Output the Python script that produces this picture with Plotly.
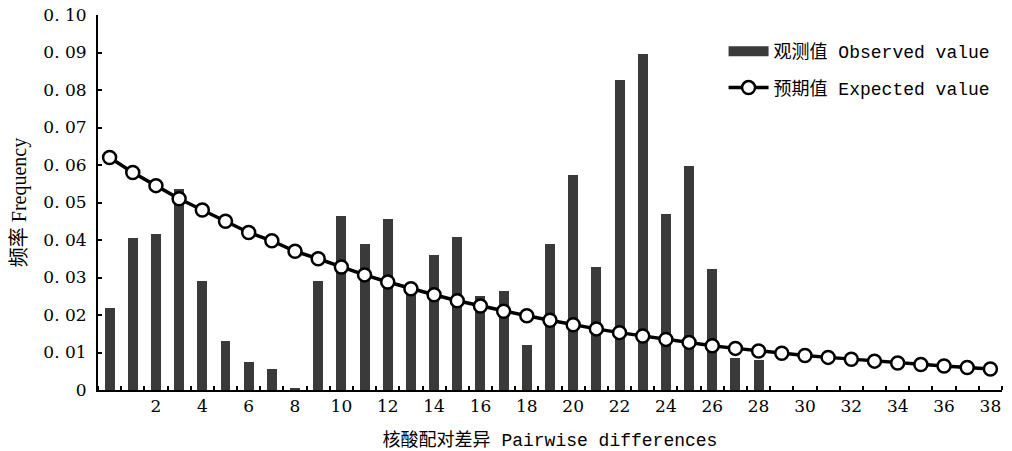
import plotly.graph_objects as go

differences = list(range(0, 39))
observed = [0.022, 0.0405, 0.0415, 0.0537, 0.029, 0.013, 0.0075, 0.0055, 0.0005, 0.029,
            0.0465, 0.039, 0.0455, 0.028, 0.036, 0.0408, 0.025, 0.0263, 0.012, 0.039,
            0.0573, 0.0329, 0.0827, 0.0896, 0.0469, 0.0598, 0.0324, 0.0086, 0.008,
            0, 0, 0, 0, 0, 0, 0, 0, 0, 0]
expected = [0.062, 0.058, 0.0545, 0.051, 0.048, 0.045, 0.042, 0.0398, 0.037, 0.035,
            0.0328, 0.0307, 0.0288, 0.027, 0.0254, 0.0238, 0.0224, 0.021, 0.0198, 0.0186,
            0.0174, 0.0163, 0.0153, 0.0144, 0.0135, 0.0127, 0.0118, 0.0111, 0.0104, 0.0098,
            0.0092, 0.0087, 0.0082, 0.0077, 0.0072, 0.0068, 0.0064, 0.006, 0.0056]
x_tick_vals = [2, 4, 6, 8, 10, 12, 14, 16, 18, 20, 22, 24, 26, 28, 30, 32, 34, 36, 38]
x_tick_text = [str(v) for v in x_tick_vals]
x_minor_vals = [i + 0.5 for i in range(-1, 39)]
y_tick_vals = [0, 0.01, 0.02, 0.03, 0.04, 0.05, 0.06, 0.07, 0.08, 0.09, 0.10]
y_tick_text = ["0", "0. 01", "0. 02", "0. 03", "0. 04", "0. 05", "0. 06", "0. 07", "0. 08", "0. 09", "0. 10"]

mono = "Liberation Mono, Noto Sans CJK SC, monospace"
serif = "DejaVu Serif, Noto Sans CJK SC, serif"
serif2 = "Liberation Serif, Noto Sans CJK SC, serif"
bar_color = "#3a3a3a"

fig = go.Figure()
fig.add_trace(go.Bar(
    x=differences, y=observed, name="观测值 Observed value",
    marker=dict(color=bar_color, line=dict(width=0)),
    width=0.43, showlegend=False,
))
# legend entry for the bars, drawn as a wide block like the reference
fig.add_trace(go.Scatter(
    x=[None], y=[None], name="观测值 Observed value", mode="lines",
    line=dict(color=bar_color, width=13), legendgroup="obs",
))
fig.add_trace(go.Scatter(
    x=differences, y=expected, name="预期值 Expected value",
    mode="lines+markers", legendgroup="exp",
    line=dict(color="black", width=3.5),
    marker=dict(symbol="circle", size=13, color="white", line=dict(color="black", width=2.5)),
))

# page body has an 8px margin, so the figure is sized/offset to compensate
fig.update_layout(
    width=1004, height=443,
    margin=dict(l=90, r=10, t=7, b=61, autoexpand=False),
    paper_bgcolor="white", plot_bgcolor="white",
    showlegend=True,
    legend=dict(
        x=0.692, xanchor="left", y=0.952, yanchor="top",
        font=dict(family=mono, size=18, color="black"),
        bgcolor="rgba(0,0,0,0)", itemwidth=40, tracegroupgap=10,
    ),
    bargap=0,
)
fig.update_xaxes(
    range=[-0.5, 38.5], automargin=False,
    tickmode="array", tickvals=x_tick_vals, ticktext=x_tick_text, ticks="",
    tickfont=dict(family=serif, size=17, color="black"),
    ticklabelstandoff=0, ticklabeloverflow="allow",
    showline=True, linecolor="black", linewidth=2,
    showgrid=False, zeroline=False,
    minor=dict(tickmode="array", tickvals=x_minor_vals, ticks="inside", ticklen=4,
               tickcolor="black", tickwidth=1.5, showgrid=False),
    title=dict(text="核酸配对差异 Pairwise differences", font=dict(family=mono, size=18, color="black"), standoff=18),
)
fig.update_yaxes(
    range=[0, 0.1], automargin=False,
    tickmode="array", tickvals=y_tick_vals, ticktext=y_tick_text,
    ticks="inside", ticklen=4, tickcolor="black", tickwidth=1.5,
    tickfont=dict(family=serif, size=17, color="black"),
    ticklabelstandoff=6, ticklabeloverflow="allow",
    showline=True, linecolor="black", linewidth=2,
    showgrid=False, zeroline=False,
    title=dict(text="频率 Frequency", font=dict(family=serif2, size=20, color="black"), standoff=13),
)

fig.write_html("out.html")
